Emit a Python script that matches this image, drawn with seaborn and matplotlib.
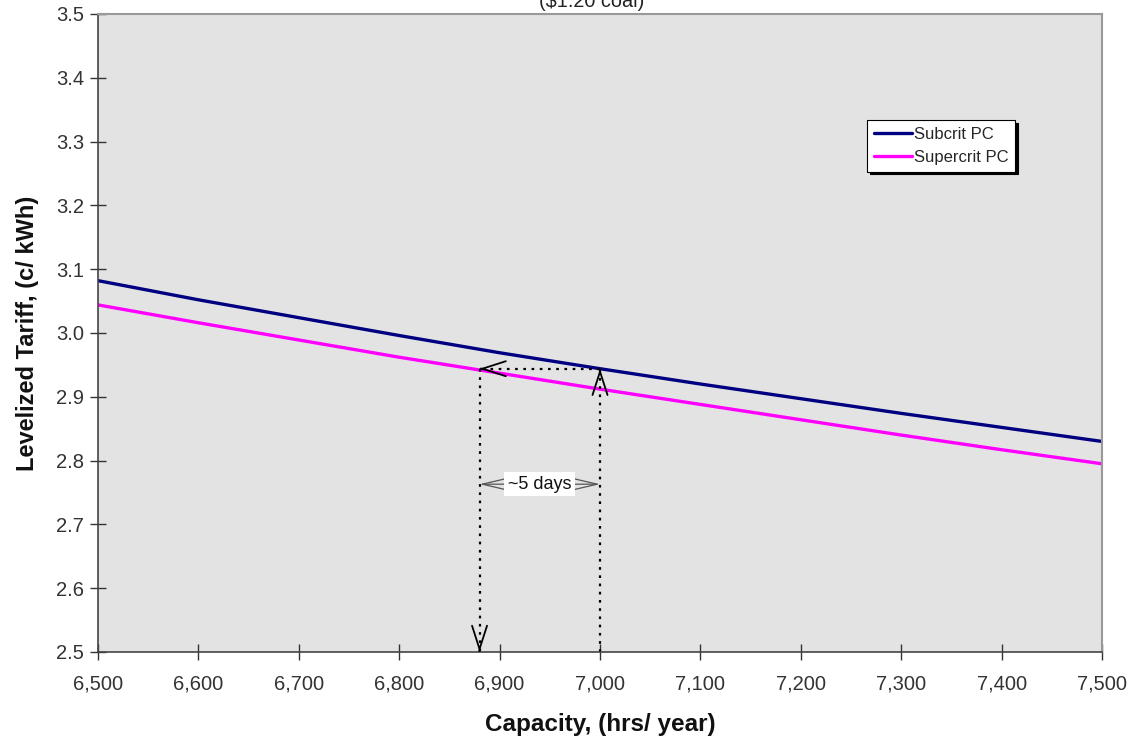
import matplotlib
matplotlib.use("Agg")
import matplotlib.pyplot as plt
import seaborn as sns
import pandas as pd
from matplotlib.ticker import FuncFormatter, MultipleLocator

hours = [6500, 6600, 6700, 6800, 6900, 7000, 7100, 7200, 7300, 7400, 7500]
subcrit = [3.082, 3.052, 3.024, 2.996, 2.969, 2.944, 2.920, 2.897, 2.874, 2.852, 2.830]
supercrit = [3.044, 3.016, 2.989, 2.962, 2.937, 2.912, 2.888, 2.864, 2.840, 2.817, 2.795]
series_names = ["Subcrit PC", "Supercrit PC"]
colors = ["#000080", "#ff00ff"]
title = "($1.20 coal)"
xlabel = "Capacity, (hrs/ year)"
ylabel = "Levelized Tariff, (c/ kWh)"
days_label = "~5 days"
x_left, x_right = 6880, 7000
y_level = 2.944
y_days = 2.763

df = pd.concat([
    pd.DataFrame({"hours": hours, "tariff": subcrit, "series": series_names[0]}),
    pd.DataFrame({"hours": hours, "tariff": supercrit, "series": series_names[1]}),
])

sns.set_theme(style="ticks")
plt.rcParams["font.family"] = ["Liberation Sans", "DejaVu Sans"]

fig = plt.figure(figsize=(11.32, 7.43), dpi=100)
ax = fig.add_axes([0.0866, 0.1225, 0.8869, 0.8587])
ax.set_facecolor("#e3e3e3")

sns.lineplot(data=df, x="hours", y="tariff", hue="series", palette=dict(zip(series_names, colors)),
             linewidth=2.4, ax=ax, legend=True)

ax.set_xlim(6500, 7500)
ax.set_ylim(2.5, 3.5)
ax.xaxis.set_major_locator(MultipleLocator(100))
ax.yaxis.set_major_locator(MultipleLocator(0.1))
ax.xaxis.set_major_formatter(FuncFormatter(lambda v, p: f"{int(round(v)):,}"))
ax.yaxis.set_major_formatter(FuncFormatter(lambda v, p: f"{v:.1f}"))
ax.tick_params(axis="both", direction="inout", length=12, width=1, colors="#333333",
               labelsize=14.5, labelcolor="#333333")
ax.tick_params(axis="x", pad=10)
ax.tick_params(axis="y", pad=4)
for s in ["top", "right"]:
    ax.spines[s].set_color("#999999")
    ax.spines[s].set_linewidth(1.5)
for s in ["left", "bottom"]:
    ax.spines[s].set_color("#444444")
    ax.spines[s].set_linewidth(1.2)

ax.set_xlabel(xlabel, fontsize=17.5, fontweight="bold", labelpad=14, color="#111111")
ax.set_ylabel(ylabel, fontsize=17, fontweight="bold", labelpad=12, color="#111111")

fig.text(0.523, 0.9906, title, ha="center", va="baseline", fontsize=14.3, color="#222222")

leg = ax.legend(loc="upper left", bbox_to_anchor=(0.766, 0.834), frameon=True, fancybox=False,
                shadow={"color": "black", "alpha": 1}, fontsize=12, handlelength=2.3,
                handletextpad=0.1, borderpad=0.4, labelspacing=0.5, borderaxespad=0)
leg.get_frame().set_edgecolor("black")
leg.get_frame().set_linewidth(0.8)
leg.get_frame().set_facecolor("white")

dotted = dict(color="black", linestyle=(0, (1.2, 2.5)), linewidth=1.6)
# dotted guide lines
ax.plot([x_right, x_right], [2.5, y_level], **dotted)
ax.plot([x_right, x_left], [y_level, y_level], **dotted)
ax.plot([x_left, x_left], [y_level, 2.5], **dotted)

head = dict(arrowstyle="->,head_length=1.4,head_width=0.45", lw=1.3, color="black",
            shrinkA=0, shrinkB=0)
# solid open arrowheads at the tips
ax.annotate("", xy=(x_right, y_level), xytext=(0, -1), textcoords="offset points", arrowprops=head)
ax.annotate("", xy=(x_left, y_level), xytext=(1, 0), textcoords="offset points", arrowprops=head)
ax.annotate("", xy=(x_left, 2.5), xytext=(0, 1), textcoords="offset points", arrowprops=head)

# ~5 days double arrow
ax.annotate("", xy=(x_left, y_days), xytext=(x_right, y_days),
            arrowprops=dict(arrowstyle="<->,head_length=1.5,head_width=0.35", lw=0.9, color="#555555",
                            shrinkA=0, shrinkB=0))
ax.text((x_left + x_right) / 2, y_days, days_label, ha="center", va="center", fontsize=13,
        color="#111111", bbox=dict(boxstyle="square,pad=0.2", facecolor="white", edgecolor="none"))

fig.savefig("out.png", dpi=100)
